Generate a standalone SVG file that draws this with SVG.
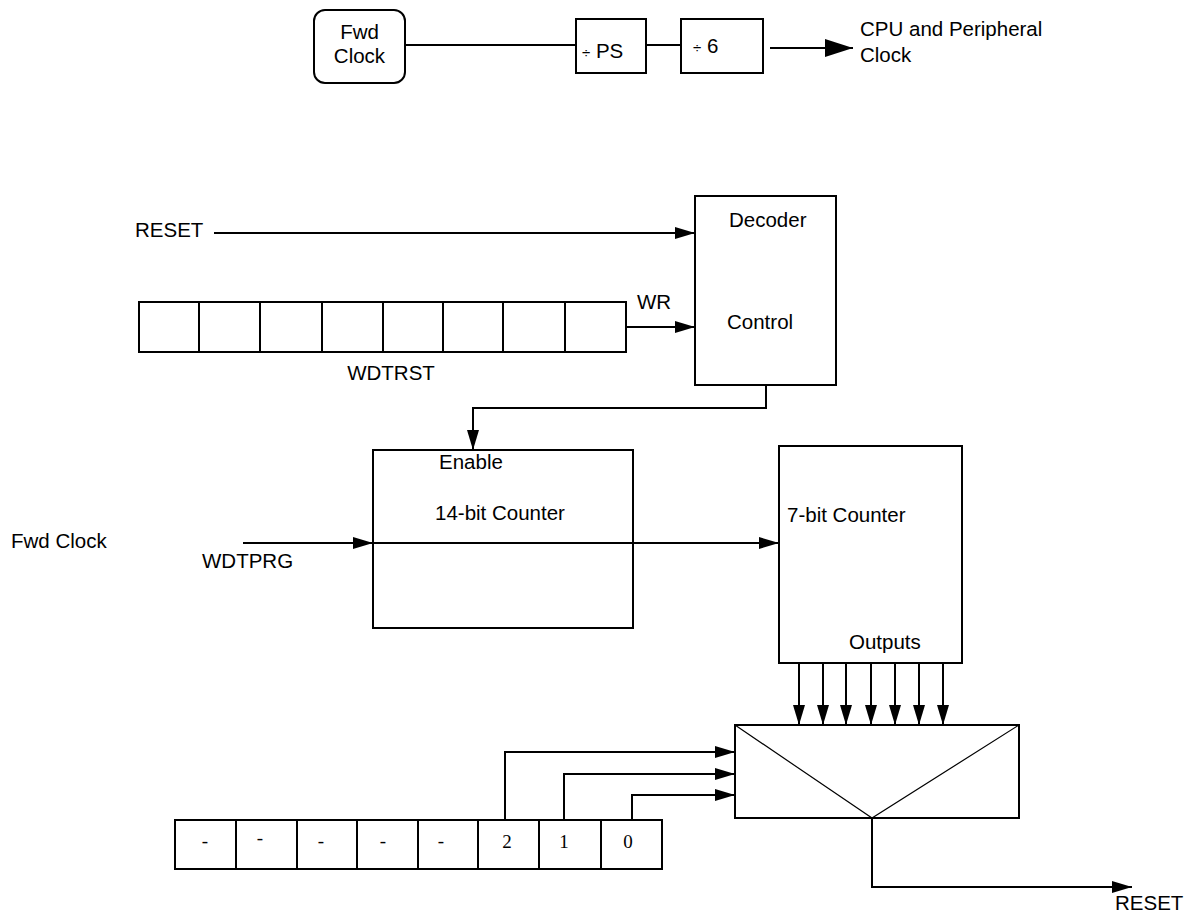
<svg xmlns="http://www.w3.org/2000/svg" width="1193" height="917" viewBox="0 0 1193 917">
<style>
.b{fill:#fff;stroke:#000;stroke-width:2}
.w{fill:none;stroke:#000;stroke-width:2}
.t{font-family:"Liberation Sans",Arial,sans-serif;font-size:20.5px;fill:#000}
.s{font-family:"Liberation Serif","Times New Roman",serif;font-size:19px;fill:#000}
</style>
<defs>
<marker id="a" markerUnits="userSpaceOnUse" markerWidth="20" markerHeight="12" refX="20" refY="6" orient="auto"><path d="M0,0 L20,6 L0,12 z" fill="#000"/></marker>
<marker id="big" markerUnits="userSpaceOnUse" markerWidth="28" markerHeight="18" refX="28" refY="9" orient="auto"><path d="M0,0 L28,9 L0,18 z" fill="#000"/></marker>
</defs>
<rect width="1193" height="917" fill="#fff"/>
<g id="connectors">
<line class="w" x1="405" y1="45" x2="576" y2="45"/>
<line class="w" x1="646" y1="45" x2="681" y2="45"/>
<line class="w" x1="770" y1="48" x2="853" y2="48" marker-end="url(#big)"/>
<line class="w" x1="214" y1="233" x2="695" y2="233" marker-end="url(#a)"/>
<line class="w" x1="626" y1="327" x2="695" y2="327" marker-end="url(#a)"/>
<polyline class="w" points="766,385 766,408 473,408 473,450" marker-end="url(#a)"/>
<line class="w" x1="243" y1="543" x2="373" y2="543" marker-end="url(#a)"/>
<line class="w" x1="373" y1="543" x2="779" y2="543" marker-end="url(#a)"/>
<line class="w" x1="799" y1="663" x2="799" y2="725" marker-end="url(#a)"/>
<line class="w" x1="823" y1="663" x2="823" y2="725" marker-end="url(#a)"/>
<line class="w" x1="846" y1="663" x2="846" y2="725" marker-end="url(#a)"/>
<line class="w" x1="871" y1="663" x2="871" y2="725" marker-end="url(#a)"/>
<line class="w" x1="895" y1="663" x2="895" y2="725" marker-end="url(#a)"/>
<line class="w" x1="919" y1="663" x2="919" y2="725" marker-end="url(#a)"/>
<line class="w" x1="943" y1="663" x2="943" y2="725" marker-end="url(#a)"/>
<polyline class="w" points="505,820 505,752 735,752" marker-end="url(#a)"/>
<polyline class="w" points="564,820 564,774 735,774" marker-end="url(#a)"/>
<polyline class="w" points="632,820 632,795 735,795" marker-end="url(#a)"/>
<polyline class="w" points="872,818 872,887 1132,887" marker-end="url(#a)"/>
</g>
<g id="fwd-clock-top">
<rect class="b" x="314" y="10" width="91" height="73" rx="11"/>
<text class="t" x="359.5" y="39" text-anchor="middle">Fwd</text>
<text class="t" x="359.5" y="63" text-anchor="middle">Clock</text>
</g>
<g id="div-ps">
<rect class="b" x="576" y="19" width="70" height="54"/>
<text class="t" x="582" y="58"><tspan font-size="15">÷</tspan> PS</text>
</g>
<g id="div-6">
<rect class="b" x="681" y="19" width="82" height="54"/>
<text class="t" x="693" y="53"><tspan font-size="15">÷</tspan> 6</text>
</g>
<g id="cpu-clock">
<text class="t" x="860" y="36">CPU and Peripheral</text>
<text class="t" x="860" y="62">Clock</text>
</g>
<g id="reset-in"><text class="t" x="135" y="237">RESET</text></g>
<g id="wdtrst">
<rect class="b" x="139" y="302" width="60" height="50"/>
<rect class="b" x="199" y="302" width="61" height="50"/>
<rect class="b" x="260" y="302" width="62" height="50"/>
<rect class="b" x="322" y="302" width="61" height="50"/>
<rect class="b" x="383" y="302" width="60" height="50"/>
<rect class="b" x="443" y="302" width="60" height="50"/>
<rect class="b" x="503" y="302" width="62" height="50"/>
<rect class="b" x="565" y="302" width="61" height="50"/>
<text class="t" x="391" y="380" text-anchor="middle">WDTRST</text>
<text class="t" x="637" y="309">WR</text>
</g>
<g id="decoder">
<rect class="b" x="695" y="196" width="141" height="189"/>
<text class="t" x="729" y="227">Decoder</text>
<text class="t" x="727" y="329">Control</text>
</g>
<g id="fwd-clock-left"><text class="t" x="11" y="548">Fwd Clock</text></g>
<g id="wdtprg"><text class="t" x="202" y="568">WDTPRG</text></g>
<g id="counter14">
<rect class="b" x="373" y="450" width="260" height="178" fill="none"/>
<line class="w" x1="373" y1="543" x2="633" y2="543"/>
<text class="t" x="439" y="469">Enable</text>
<text class="t" x="435" y="520">14-bit Counter</text>
</g>
<g id="counter7">
<rect class="b" x="779" y="446" width="183" height="217"/>
<text class="t" x="787" y="522">7-bit Counter</text>
<text class="t" x="849" y="649">Outputs</text>
</g>
<g id="mux">
<rect class="b" x="735" y="725" width="284" height="93"/>
<polyline points="735,725 872,818 1019,725" fill="none" stroke="#000" stroke-width="1.2"/>
</g>
<g id="reset-out"><text class="t" x="1115" y="910">RESET</text></g>
<g id="wdtprg-reg">
<rect class="b" x="175" y="820" width="61" height="49"/>
<rect class="b" x="236" y="820" width="61" height="49"/>
<rect class="b" x="297" y="820" width="60" height="49"/>
<rect class="b" x="357" y="820" width="61" height="49"/>
<rect class="b" x="418" y="820" width="60" height="49"/>
<rect class="b" x="478" y="820" width="61" height="49"/>
<rect class="b" x="539" y="820" width="62" height="49"/>
<rect class="b" x="601" y="820" width="61" height="49"/>
<text class="s" x="205" y="847" text-anchor="middle">-</text>
<text class="s" x="260" y="844" text-anchor="middle">-</text>
<text class="s" x="321" y="847" text-anchor="middle">-</text>
<text class="s" x="383" y="847" text-anchor="middle">-</text>
<text class="s" x="441" y="847" text-anchor="middle">-</text>
<text class="s" x="507" y="848" text-anchor="middle">2</text>
<text class="s" x="564" y="848" text-anchor="middle">1</text>
<text class="s" x="628" y="848" text-anchor="middle">0</text>
</g>
</svg>
